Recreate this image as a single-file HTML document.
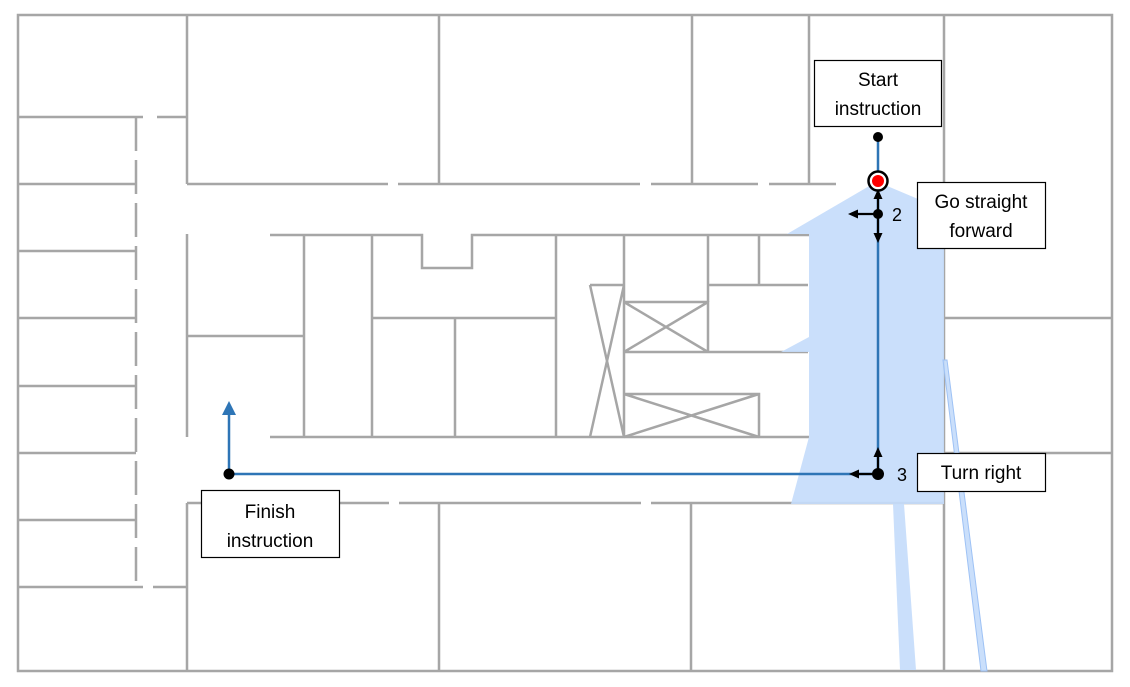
<!DOCTYPE html>
<html><head><style>
html,body{margin:0;padding:0;background:#fff;}
svg{display:block;}
text{font-family:"Liberation Sans",sans-serif;}
</style></head><body>
<svg width="1130" height="687" viewBox="0 0 1130 687" xmlns="http://www.w3.org/2000/svg">
<defs>
<marker id="ab" markerWidth="10" markerHeight="10" refX="7" refY="5" orient="auto" markerUnits="userSpaceOnUse"><path d="M0,0.5 L10,5 L0,9.5 z" fill="#000"/></marker>
<marker id="au" markerWidth="14" markerHeight="14" refX="10" refY="7" orient="auto" markerUnits="userSpaceOnUse"><path d="M0,0 L14,7 L0,14 z" fill="#2e75b6"/></marker>
</defs>
<g stroke="#a6a6a6" stroke-width="2.5" fill="none">
<rect x="18" y="15" width="1094" height="656"/>
<path d="M18 117H143M157 117H187M18 587H143M153 587H187"/>
<path d="M18 184H136M18 251H136M18 318H136M18 386H136M18 453H136M18 520H136"/>
<path d="M136 117V587" stroke-dasharray="34,9"/>
<path d="M187 15V184M439 15V184M692 15V184M809 15V184M944 15V671"/>
<path d="M187 184H388M398 184H640M651 184H758M769 184H836"/>
<path d="M187 503V671M439 503V671M691 503V671"/>
<path d="M187 503H389M399 503H641M651 503H944"/>
<path d="M944 318H1112M944 453H1112"/>
<path d="M270 235H422V268H472V235H809M270 437H809"/>
<path d="M187 234V437M187 336H304"/>
<path d="M304 235V437M372 235V437M372 318H556M455 318V437M556 235V437"/>
<path d="M624 235V437M708 235V302M759 235V285M708 285H808M590 285H624V437M590 285L624 437M624 285L590 437"/>
<path d="M624 302H708V352H624M624 302L708 352M708 302L624 352M624 352H808"/>
<path d="M624 394H759V437M624 394L759 437M759 394L624 437"/>
</g>
<g fill="#c6dcfb" fill-opacity="0.92">
<path d="M871 185L787 234H809V337L781 352H809V437L791 504H893L900 670H916L904 504H944V210L885 185Z"/>
<path d="M943 360L947 360L987 671L981 671Z" stroke="#9ec2f5" stroke-width="1"/>
</g>
<g stroke="#2e75b6" stroke-width="2.5" fill="none">
<path d="M878 137V474H229V405" marker-end="url(#au)"/>
</g>
<circle cx="878" cy="137" r="5" fill="#000"/>
<circle cx="229" cy="474" r="5.5" fill="#000"/>
<g stroke="#000" stroke-width="2.2">
<line x1="878" y1="214" x2="878" y2="192" marker-end="url(#ab)"/>
<line x1="878" y1="214" x2="878" y2="240" marker-end="url(#ab)"/>
<line x1="878" y1="214" x2="851" y2="214" marker-end="url(#ab)"/>
<line x1="878" y1="474" x2="878" y2="450" marker-end="url(#ab)"/>
<line x1="878" y1="474" x2="852" y2="474" marker-end="url(#ab)"/>
</g>
<circle cx="878" cy="214" r="5" fill="#000"/>
<circle cx="878" cy="474" r="6" fill="#000"/>
<circle cx="878" cy="181" r="9.5" fill="#fff" stroke="#000" stroke-width="2.5"/>
<circle cx="878" cy="181" r="6" fill="#f00"/>
<text x="892" y="221" font-size="18">2</text>
<text x="897" y="481" font-size="18">3</text>
<g fill="#fff" stroke="#000" stroke-width="1.2">
<rect x="814.5" y="60.5" width="127" height="66"/>
<rect x="917.5" y="182.5" width="128" height="66"/>
<rect x="917.5" y="453.5" width="128" height="38"/>
<rect x="201.5" y="490.5" width="138" height="67"/>
</g>
<g font-size="19" text-anchor="middle" fill="#000">
<text x="878" y="86">Start</text>
<text x="878" y="115">instruction</text>
<text x="981" y="208">Go straight</text>
<text x="981" y="237">forward</text>
<text x="981" y="479">Turn right</text>
<text x="270" y="518">Finish</text>
<text x="270" y="547">instruction</text>
</g>
</svg>
</body></html>
